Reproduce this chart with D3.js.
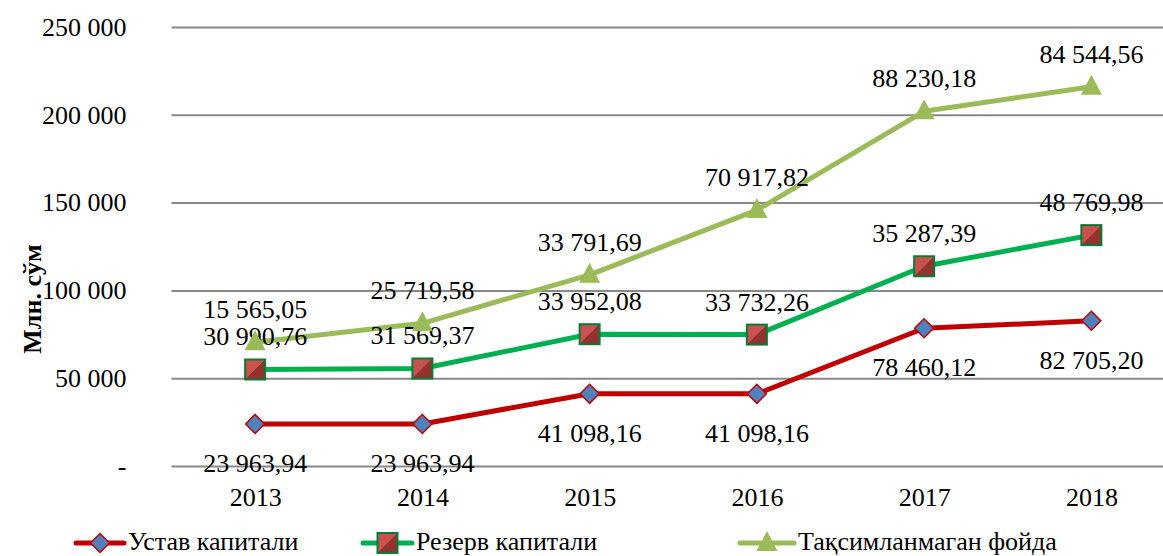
<!DOCTYPE html>
<html>
<head>
<meta charset="utf-8">
<script src="https://cdn.jsdelivr.net/npm/d3@7"></script>
</head>
<body style="margin:0;background:#fff">
<svg id="chart" width="1163" height="556"></svg>
<script>
const years = ["2013", "2014", "2015", "2016", "2017", "2018"];
const ustav = [23963.94, 23963.94, 41098.16, 41098.16, 78460.12, 82705.20];
const rezerv = [30990.76, 31569.37, 33952.08, 33732.26, 35287.39, 48769.98];
const foyda = [15565.05, 25719.58, 33791.69, 70917.82, 88230.18, 84544.56];
const yTicks = [0, 50000, 100000, 150000, 200000, 250000];
const seriesNames = ["Устав капитали", "Резерв капитали", "Тақсимланмаган фойда"];

const FONT = "Liberation Serif";
const width = 1163, height = 556;
const margin = { top: 27, right: -12, bottom: 90, left: 171.5 };

const svg = d3.select("svg#chart").attr("font-family", FONT);

// gradient for the square markers
const defs = svg.append("defs");
const grad = defs.append("linearGradient").attr("id", "sq")
    .attr("x1", "0").attr("y1", "0").attr("x2", "1").attr("y2", "1");
grad.append("stop").attr("offset", "50%").attr("stop-color", "#c9524f");
grad.append("stop").attr("offset", "50%").attr("stop-color", "#93332f");

// SCALES
const x = d3.scalePoint()
    .domain(years)
    .range([margin.left, width - margin.right])
    .padding(0.5);

const y = d3.scaleLinear()
    .domain([0, 250000])
    .range([height - margin.bottom, margin.top]);

// stacked values
const s1 = ustav;
const s2 = ustav.map((v, i) => v + rezerv[i]);
const s3 = s2.map((v, i) => v + foyda[i]);

const fmt = v => {
    const [a, b] = v.toFixed(2).split(".");
    return a.replace(/\B(?=(\d{3})+(?!\d))/g, " ") + "," + b;
};
const fmtTick = v => v === 0 ? "-" : d3.format(",")(v).replace(/,/g, " ");

// GRID + Y AXIS
const yAxis = g => g.attr("transform", `translate(${margin.left},0)`)
    .call(d3.axisLeft(y).tickValues(yTicks).tickFormat(fmtTick)
        .tickSize(-(width - margin.right - margin.left)).tickPadding(45))
    .attr("font-family", FONT).attr("font-size", 26)
    .call(g => g.select(".domain").remove())
    .call(g => g.selectAll(".tick line").attr("stroke", "#888").attr("stroke-width", 2))
    .call(g => g.selectAll(".tick text").attr("fill", "#000"));
svg.append("g").call(yAxis);

// X AXIS
const xAxis = g => g.attr("transform", `translate(0,${height - margin.bottom})`)
    .call(d3.axisBottom(x).tickSize(0).tickPadding(22))
    .attr("font-family", FONT).attr("font-size", 26)
    .call(g => g.select(".domain").remove())
    .call(g => g.selectAll(".tick text").attr("fill", "#000"));
svg.append("g").call(xAxis);

// Y title
svg.append("text")
    .attr("transform", "translate(41,299) rotate(-90)")
    .attr("text-anchor", "middle")
    .attr("font-family", FONT)
    .attr("font-size", 26).attr("font-weight", "bold")
    .text("Млн. сўм");

// LINES
const line = d3.line().x((d, i) => x(years[i])).y(d => y(d));
const series = [
    { vals: s1, labels: ustav, color: "#c00000", marker: "diamond", dy: 48 },
    { vals: s2, labels: rezerv, color: "#00b050", marker: "square", dy: -24 },
    { vals: s3, labels: foyda, color: "#9bbb59", marker: "triangle", dy: -24 }
];

function drawMarker(g, type, cx, cy) {
    if (type === "diamond") {
        g.append("path")
            .attr("d", `M${cx},${cy - 9.5}L${cx + 9.5},${cy}L${cx},${cy + 9.5}L${cx - 9.5},${cy}Z`)
            .attr("fill", "#4f81bd").attr("stroke", "#c00000").attr("stroke-width", 1.5);
    } else if (type === "square") {
        g.append("rect")
            .attr("x", cx - 10).attr("y", cy - 10).attr("width", 20).attr("height", 20)
            .attr("fill", "url(#sq)").attr("stroke", "#0a7a35").attr("stroke-width", 2);
    } else {
        g.append("path")
            .attr("d", `M${cx},${cy - 12}L${cx + 10.5},${cy + 8}L${cx - 10.5},${cy + 8}Z`)
            .attr("fill", "#9bbb59");
    }
}

series.forEach(s => {
    svg.append("path")
        .datum(s.vals)
        .attr("d", line)
        .attr("fill", "none")
        .attr("stroke", s.color)
        .attr("stroke-width", 5)
        .attr("stroke-linejoin", "round");
});

series.forEach(s => {
    const g = svg.append("g");
    s.vals.forEach((v, i) => drawMarker(g, s.marker, x(years[i]), y(v)));
    svg.append("g").selectAll("text")
        .data(s.vals)
        .join("text")
        .attr("x", (d, i) => x(years[i]))
        .attr("y", d => y(d) + s.dy)
        .attr("text-anchor", "middle")
        .attr("font-family", FONT)
        .attr("font-size", 26)
        .text((d, i) => fmt(s.labels[i]));
});

// LEGEND
const legend = [
    { x0: 76, x1: 124, tx: 128, marker: "diamond", color: "#c00000" },
    { x0: 363, x1: 412, tx: 416, marker: "square", color: "#00b050" },
    { x0: 740, x1: 794, tx: 798, marker: "triangle", color: "#9bbb59" }
];
const ly = 543;
legend.forEach((l, i) => {
    const g = svg.append("g");
    g.append("line").attr("x1", l.x0).attr("x2", l.x1).attr("y1", ly).attr("y2", ly)
        .attr("stroke", l.color).attr("stroke-width", 5).attr("stroke-linecap", "round");
    drawMarker(g, l.marker, (l.x0 + l.x1) / 2, ly);
    g.append("text").attr("x", l.tx).attr("y", ly + 7)
        .attr("font-family", FONT).attr("font-size", 26)
        .text(seriesNames[i]);
});
</script>
</body>
</html>
